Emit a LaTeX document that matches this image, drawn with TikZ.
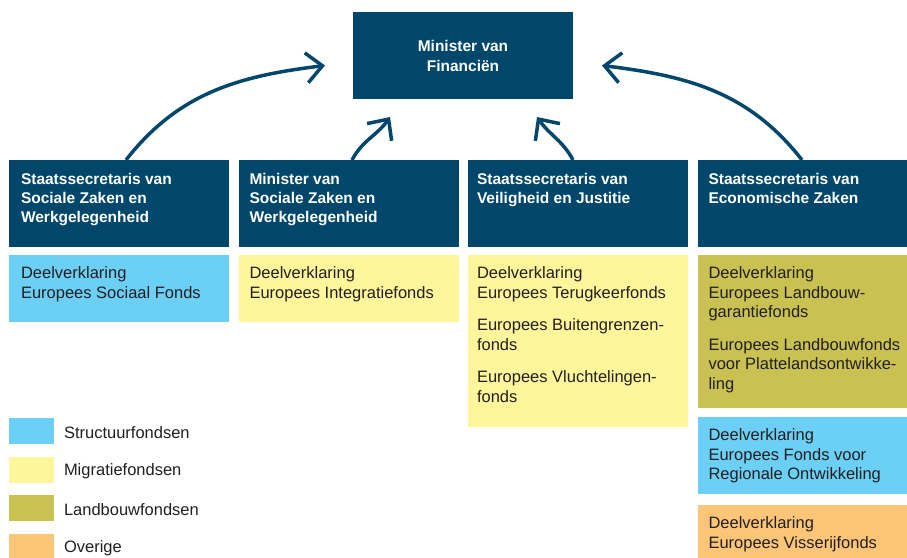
\documentclass[tikz,border=0pt]{standalone}
\usepackage{fontspec}
\setmainfont{Liberation Sans}
\usetikzlibrary{positioning,arrows.meta}
\definecolor{mfblue}{HTML}{00476B}
\definecolor{structuur}{HTML}{6BCFF6}
\definecolor{migratie}{HTML}{FFF59B}
\definecolor{landbouw}{HTML}{C9C151}
\definecolor{overig}{HTML}{FCC577}
\definecolor{txtgrey}{HTML}{231F20}

\begin{document}
\begin{tikzpicture}
        [x=1pt, y=1pt,
        every node/.style={inner sep=0pt, outer sep=0pt},
        box/.style={anchor=north west, minimum width=220pt},
        darkbox/.style={box, fill=mfblue, minimum height=87pt},
        headtxt/.style={anchor=north west, align=left, text=white,
        font=\fontsize{15.5}{19}\selectfont\bfseries},
        fundtxt/.style={anchor=north west, align=left, text=txtgrey,
        font=\fontsize{16.5}{19.5}\selectfont},
        legbox/.style={anchor=north west, minimum width=45pt, minimum height=26pt},
        legtxt/.style={anchor=west, text=txtgrey, yshift=-1.5pt,
        font=\fontsize{16.5}{19.5}\selectfont},
        reports/.style={draw=mfblue, line width=3.5pt,
        -{Straight Barb[length=16pt,width=30pt]}}]
        \useasboundingbox (0,0) rectangle (907,-557);
        \node[fill=mfblue, minimum width=220pt, minimum height=87pt, text=white,
            align=center, font=\fontsize{15.5}{20}\selectfont\bfseries]
            (minfin) at (463,-55.5) {Minister van\\Financiën};
        \node[darkbox] (szw1) at (9,-160) {};
        \node[darkbox, right=9.5pt of szw1] (szw2) {};
        \node[darkbox, right=9.5pt of szw2] (venj) {};
        \node[darkbox, right=9.5pt of venj] (ez) {};
        \node[headtxt] (szw1txt) at ([shift={(12pt,-13pt)}]szw1.north west)
            {Staatssecretaris van\\Sociale Zaken en\\Werkgelegenheid};
        \node[headtxt] (szw2txt) at ([shift={(11pt,-13pt)}]szw2.north west)
            {Minister van\\Sociale Zaken en\\Werkgelegenheid};
        \node[headtxt] (venjtxt) at ([shift={(9pt,-13pt)}]venj.north west)
            {Staatssecretaris van\\Veiligheid en Justitie};
        \node[headtxt] (eztxt) at ([shift={(11pt,-13pt)}]ez.north west)
            {Staatssecretaris van\\Economische Zaken};
        \node[box, fill=structuur, minimum height=67pt, below=8pt of szw1] (esf) {};
        \node[box, fill=migratie, minimum height=67pt, below=8pt of szw2] (eif) {};
        \node[box, fill=migratie, minimum height=172pt, below=8pt of venj] (etf) {};
        \node[box, fill=landbouw, minimum height=153pt, below=8pt of ez] (elgf) {};
        \node[box, fill=structuur, minimum height=77pt, below=9pt of elgf] (efro) {};
        \node[box, fill=overig, minimum height=60pt, below=11pt of efro] (evf) {};
        \node[fundtxt] (esftxt) at ([shift={(12pt,-12pt)}]esf.north west)
            {Deelverklaring\\Europees Sociaal Fonds};
        \node[fundtxt] (eiftxt) at ([shift={(11pt,-12pt)}]eif.north west)
            {Deelverklaring\\Europees Integratiefonds};
        \node[fundtxt] (etftxt) at ([shift={(9pt,-12pt)}]etf.north west)
            {Deelverklaring\\Europees Terugkeerfonds\\[13pt]Europees Buitengrenzen-\\fonds\\[13pt]Europees Vluchtelingen-\\fonds};
        \node[fundtxt] (elgftxt) at ([shift={(11pt,-12pt)}]elgf.north west)
            {Deelverklaring\\Europees Landbouw-\\garantiefonds\\[13pt]Europees Landbouwfonds\\voor Plattelandsontwikke-\\ling};
        \node[fundtxt] (efrotxt) at ([shift={(11pt,-12pt)}]efro.north west)
            {Deelverklaring\\Europees Fonds voor\\Regionale Ontwikkeling};
        \node[fundtxt] (evftxt) at ([shift={(11pt,-12pt)}]evf.north west)
            {Deelverklaring\\Europees Visserijfonds};
        \node[legbox, fill=structuur] (legsf) at (9,-418) {};
        \node[legbox, fill=migratie] (legmf) at (9,-457) {};
        \node[legbox, fill=landbouw] (leglf) at (9,-495) {};
        \node[legbox, fill=overig] (legov) at (9,-534) {};
        \node[legtxt, right=10pt of legsf] {Structuurfondsen};
        \node[legtxt, right=10pt of legmf] {Migratiefondsen};
        \node[legtxt, right=10pt of leglf] {Landbouwfondsen};
        \node[legtxt, right=10pt of legov] {Overige};
        \draw[reports] ([xshift=7pt]szw1.north) to[out=52, in=187]
            ([shift={(-28pt,-10pt)}]minfin.west);
        \draw[reports] ([xshift=3.5pt]szw2.north) to[out=62, in=235]
            ([shift={(37pt,-18pt)}]minfin.south west);
        \draw[reports] ([xshift=-5pt]venj.north) to[out=118, in=-55]
            ([shift={(-36pt,-18pt)}]minfin.south east);
        \draw[reports] ([xshift=-5.5pt]ez.north) to[out=128, in=-7]
            ([shift={(29pt,-10pt)}]minfin.east);
\end{tikzpicture}
\end{document}
